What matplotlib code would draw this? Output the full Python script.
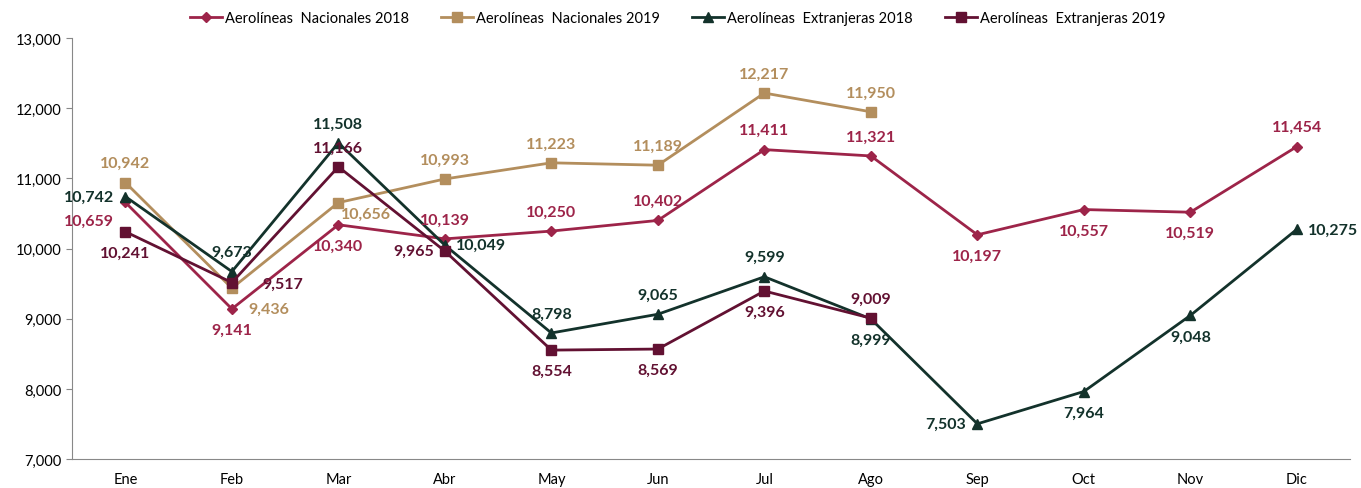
import matplotlib
matplotlib.use('Agg')
import matplotlib.pyplot as plt
from matplotlib.ticker import FuncFormatter

plt.rcParams['font.family'] = ['Lato', 'DejaVu Sans']

meses = ['Ene', 'Feb', 'Mar', 'Abr', 'May', 'Jun', 'Jul', 'Ago', 'Sep', 'Oct', 'Nov', 'Dic']

nac_2018 = [10659, 9141, 10340, 10139, 10250, 10402, 11411, 11321, 10197, 10557, 10519, 11454]
nac_2019 = [10942, 9436, 10656, 10993, 11223, 11189, 12217, 11950]
ext_2018 = [10742, 9673, 11508, 10049, 8798, 9065, 9599, 8999, 7503, 7964, 9048, 10275]
ext_2019 = [10241, 9517, 11166, 9965, 8554, 8569, 9396, 9009]

# where each value label sits relative to its point
pos_nac_2018 = ['lb', 'b', 'b', 't', 't', 't', 't', 't', 'b', 'b', 'b', 't']
pos_nac_2019 = ['t', 'rbb', 'rb', 't', 't', 't', 't', 't']
pos_ext_2018 = ['l', 't', 't', 'r', 't', 't', 't', 'b', 'l', 'b', 'b', 'r']
pos_ext_2019 = ['b', 'rr', 't', 'l', 'b', 'b', 'b', 't']

series = [
    ('Aerolíneas  Nacionales 2018', nac_2018, pos_nac_2018, '#9D2449', 'D', 5.5),
    ('Aerolíneas  Nacionales 2019', nac_2019, pos_nac_2019, '#B38E5D', 's', 7),
    ('Aerolíneas  Extranjeras 2018', ext_2018, pos_ext_2018, '#13322B', '^', 7.5),
    ('Aerolíneas  Extranjeras 2019', ext_2019, pos_ext_2019, '#621132', 's', 7.5),
]

offsets = {
    't': ((0, 9), 'center', 'bottom'),
    'b': ((0, -10), 'center', 'top'),
    'l': ((-8, 0), 'right', 'center'),
    'r': ((8, 0), 'left', 'center'),
    'rr': ((22, -1), 'left', 'center'),
    'lb': ((-8, -8), 'right', 'top'),
    'rb': ((2, -3), 'left', 'top'),
    'rbb': ((12, -10), 'left', 'top'),
}

fig = plt.figure(figsize=(13.61, 4.89), dpi=100)
ax = fig.add_axes([0.053, 0.059, 0.939, 0.861])

for name, vals, pos, col, mk, ms in series:
    x = list(range(len(vals)))
    ax.plot(x, vals, color=col, lw=2.0, marker=mk, markersize=ms, label=name)
    for xi, v, p in zip(x, vals, pos):
        off, ha, va = offsets[p]
        ax.annotate(f'{v:,}', (xi, v), xytext=off, textcoords='offset points',
                    ha=ha, va=va, fontsize=11.5, fontweight='bold', color=col)

ax.set_xlim(-0.5, 11.5)
ax.set_ylim(7000, 13000)
ax.set_xticks(range(12))
ax.set_xticklabels(meses)
ax.set_yticks(range(7000, 13001, 1000))
ax.yaxis.set_major_formatter(FuncFormatter(lambda v, p: f'{int(v):,}'))
ax.tick_params(axis='x', length=0, pad=9, labelsize=10.5)
ax.tick_params(axis='y', length=4, color='#888888', labelsize=10.5)
for s in ['top', 'right']:
    ax.spines[s].set_visible(False)
for s in ['left', 'bottom']:
    ax.spines[s].set_color('#888888')

h, l = ax.get_legend_handles_labels()
fig.legend(h, l, loc='center', bbox_to_anchor=(0.498, 0.961), ncol=4, frameon=False,
           fontsize=10.5, handlelength=2.2, handletextpad=0.2, columnspacing=2.2)

fig.savefig('out.png', dpi=100)
